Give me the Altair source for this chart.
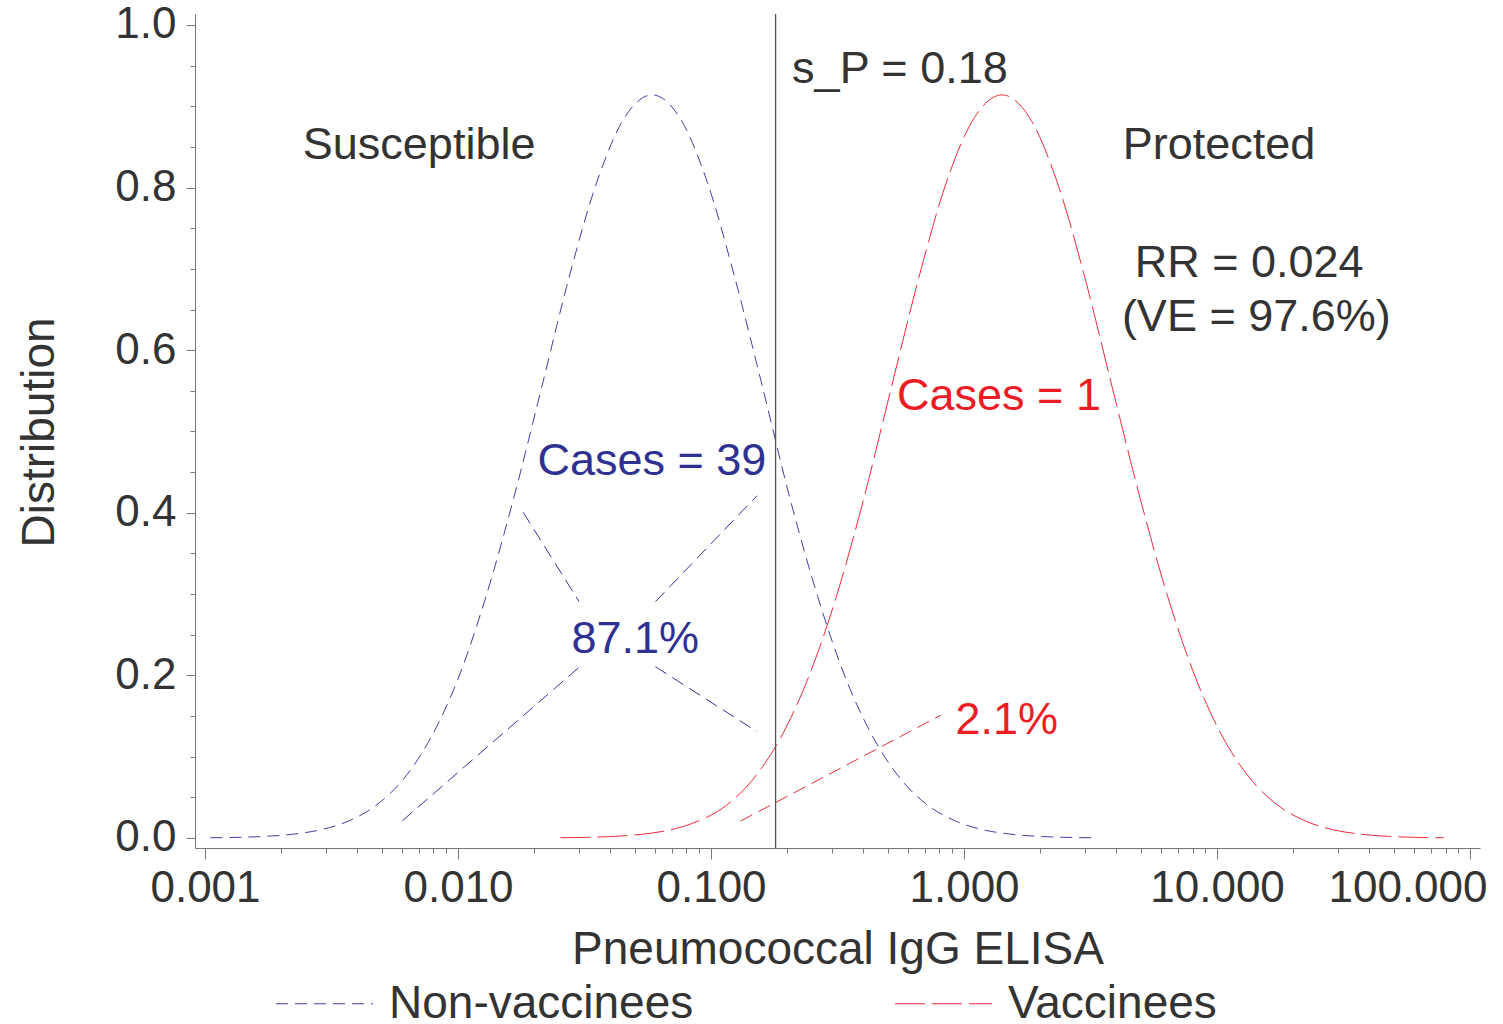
import altair as alt
import pandas as pd

FONT = "Liberation Sans"
DARK = "#333333"

# ---- distribution curves ----
nonvac_x = [0.00105, 0.00135, 0.00173, 0.00223, 0.00286, 0.00369, 0.00474, 0.00610,
            0.00783, 0.01007, 0.0129, 0.0166, 0.0214, 0.0275, 0.0354, 0.0455, 0.0585,
            0.0752, 0.0966, 0.124, 0.160, 0.205, 0.264, 0.339, 0.437, 0.561, 0.721,
            0.927, 1.191, 1.531, 1.968, 2.535, 3.258]
vac_x = [0.0254, 0.0326, 0.0419, 0.0538, 0.0692, 0.0889, 0.115, 0.147, 0.189, 0.243,
         0.313, 0.402, 0.516, 0.664, 0.853, 1.099, 1.413, 1.816, 2.333, 2.999, 3.855,
         4.966, 6.383, 8.204, 10.54, 13.55, 17.42, 22.39, 28.77, 36.98, 47.64, 61.24, 78.70]
nonvac_y = [0.0003, 0.0008, 0.0020, 0.0047, 0.0101, 0.0208, 0.0401, 0.0728, 0.124, 0.198,
            0.297, 0.418, 0.554, 0.690, 0.807, 0.886, 0.914, 0.886, 0.807, 0.690, 0.554,
            0.418, 0.297, 0.198, 0.124, 0.0728, 0.0401, 0.0208, 0.0101, 0.0047, 0.0020,
            0.0008, 0.0003]
vac_y = [0.0003, 0.0008, 0.0020, 0.0047, 0.0101, 0.0208, 0.0401, 0.0728, 0.124, 0.198,
         0.297, 0.418, 0.554, 0.690, 0.807, 0.886, 0.914, 0.886, 0.807, 0.690, 0.554,
         0.418, 0.297, 0.198, 0.124, 0.0728, 0.0401, 0.0208, 0.0101, 0.0047, 0.0020,
         0.0008, 0.0003]
groups = ["Non-vaccinees", "Vaccinees"]
group_colors = ["#4040a4", "#ef2a3a"]
group_dashes = [[12, 7], [30, 7]]

# threshold
sP = [0.18]

# pointer segments (x, y) -> (x2, y2)
seg_x = [0.00603, 0.0181, 0.0603, 0.0603, 0.131]
seg_y = [0.0213, 0.4006, 0.2907, 0.2107, 0.0209]
seg_x2 = [0.0301, 0.0301, 0.152, 0.152, 0.809]
seg_y2 = [0.210, 0.2907, 0.421, 0.1308, 0.151]
seg_color = ["#34349c", "#34349c", "#34349c", "#34349c", "#ee2a35"]

# annotations
ann_text = ["s_P = 0.18", "Susceptible", "Protected", "RR = 0.024", "(VE = 97.6%)",
            "Cases = 1", "Cases = 39", "87.1%", "2.1%"]
ann_x = [0.558, 0.00702, 10.19, 13.4, 14.3, 1.375, 0.0584, 0.0502, 1.476]
ann_y = [0.9287, 0.8348, 0.8348, 0.690, 0.623, 0.527, 0.4465, 0.228, 0.128]
ann_color = [DARK, DARK, DARK, DARK, DARK, "#ed1c24", "#2e3192", "#2e3192", "#ed1c24"]

# axis ticks
x_major = [0.001, 0.01, 0.1, 1, 10, 100]
x_minor = [m * 10.0 ** e for e in range(-3, 2) for m in range(2, 10)]
y_major = [0.0, 0.2, 0.4, 0.6, 0.8, 1.0]
y_minor = [i * 0.05 for i in range(0, 21)]

curves = pd.DataFrame({
    "x": nonvac_x + vac_x,
    "y": nonvac_y + vac_y,
    "group": [groups[0]] * len(nonvac_x) + [groups[1]] * len(vac_x),
})
segs = pd.DataFrame({"x": seg_x, "y": seg_y, "x2": seg_x2, "y2": seg_y2, "c": seg_color})
anns = pd.DataFrame({"t": ann_text, "x": ann_x, "y": ann_y, "c": ann_color})
vline = pd.DataFrame({"x": sP})

xs = alt.Scale(type="log", domain=[0.000913, 109.5], nice=False)
ys = alt.Scale(domain=[-0.0123, 1.0135], nice=False, zero=False)

common_axis = dict(grid=False, domainColor="#777777", tickColor="#777777",
                   labelColor=DARK, titleColor=DARK, labelFont=FONT, titleFont=FONT,
                   labelFontSize=44, titleFontSize=46, titleFontWeight="normal")

x_major_axis = alt.Axis(values=x_major, format=".3f", tickSize=11, labelPadding=7,
                        title="Pneumococcal IgG ELISA", titleY=115, titleBaseline="alphabetic",
                        orient="bottom", labelFlush=False, labelOverlap=False,
                        labelAlign={"expr": "datum.value >= 50 ? 'right' : 'center'"},
                        labelOffset={"expr": "datum.value >= 50 ? 17 : 0"},
                        **common_axis)
y_major_axis = alt.Axis(values=y_major, format=".1f", tickSize=9, labelPadding=10,
                        title="Distribution", titleX=-142, titleY=418, titleAngle=270,
                        titleBaseline="alphabetic", titleAlign="center",
                        orient="left", labelOverlap=False, **common_axis)
x_minor_axis = alt.Axis(values=x_minor, labels=False, tickSize=5, domain=False, title=None,
                        grid=False, orient="bottom", tickColor="#777777")
y_minor_axis = alt.Axis(values=y_minor, labels=False, tickSize=5, domain=False, title=None,
                        grid=False, orient="left", tickColor="#777777")

legend = alt.Legend(title=None, orient="none", legendX=80, legendY=940, direction="horizontal",
                    symbolType="stroke", symbolSize=9409, symbolStrokeWidth=1.2,
                    labelFont=FONT, labelFontSize=46, labelColor=DARK, labelOffset=15,
                    labelLimit=600, columnPadding=198, padding=0)

curve_layer = alt.Chart(curves).mark_line(strokeWidth=1, interpolate="monotone").encode(
    x=alt.X("x:Q", scale=xs, axis=x_major_axis),
    y=alt.Y("y:Q", scale=ys, axis=y_major_axis),
    color=alt.Color("group:N", scale=alt.Scale(domain=groups, range=group_colors), legend=legend),
    strokeDash=alt.StrokeDash("group:N", scale=alt.Scale(domain=groups, range=group_dashes),
                              legend=legend),
)

vrule = alt.Chart(vline).mark_rule(color="#555555", strokeWidth=1.3).encode(
    x=alt.X("x:Q", scale=xs, axis=None),
)

seg_layer = alt.Chart(segs).mark_rule(strokeWidth=1, strokeDash=[13, 7]).encode(
    x=alt.X("x:Q", scale=xs, axis=x_minor_axis),
    y=alt.Y("y:Q", scale=ys, axis=y_minor_axis),
    x2="x2:Q",
    y2="y2:Q",
    color=alt.Color("c:N", scale=None),
)

text_layer = alt.Chart(anns).mark_text(font=FONT, fontSize=45, align="center",
                                       baseline="alphabetic").encode(
    x=alt.X("x:Q", scale=xs, axis=None),
    y=alt.Y("y:Q", scale=ys, axis=None),
    text="t:N",
    color=alt.Color("c:N", scale=None),
)

chart = alt.layer(curve_layer, vrule, seg_layer, text_layer).resolve_axis(
    x="independent", y="independent"
).properties(
    width=1285, height=834,
    autosize=alt.AutoSizeParams(type="none"),
    padding={"left": 195, "top": 14, "right": 23, "bottom": 176},
    background="white",
).configure_view(stroke=None)

chart.save("out.html", embed_options={"renderer": "svg", "actions": False})
